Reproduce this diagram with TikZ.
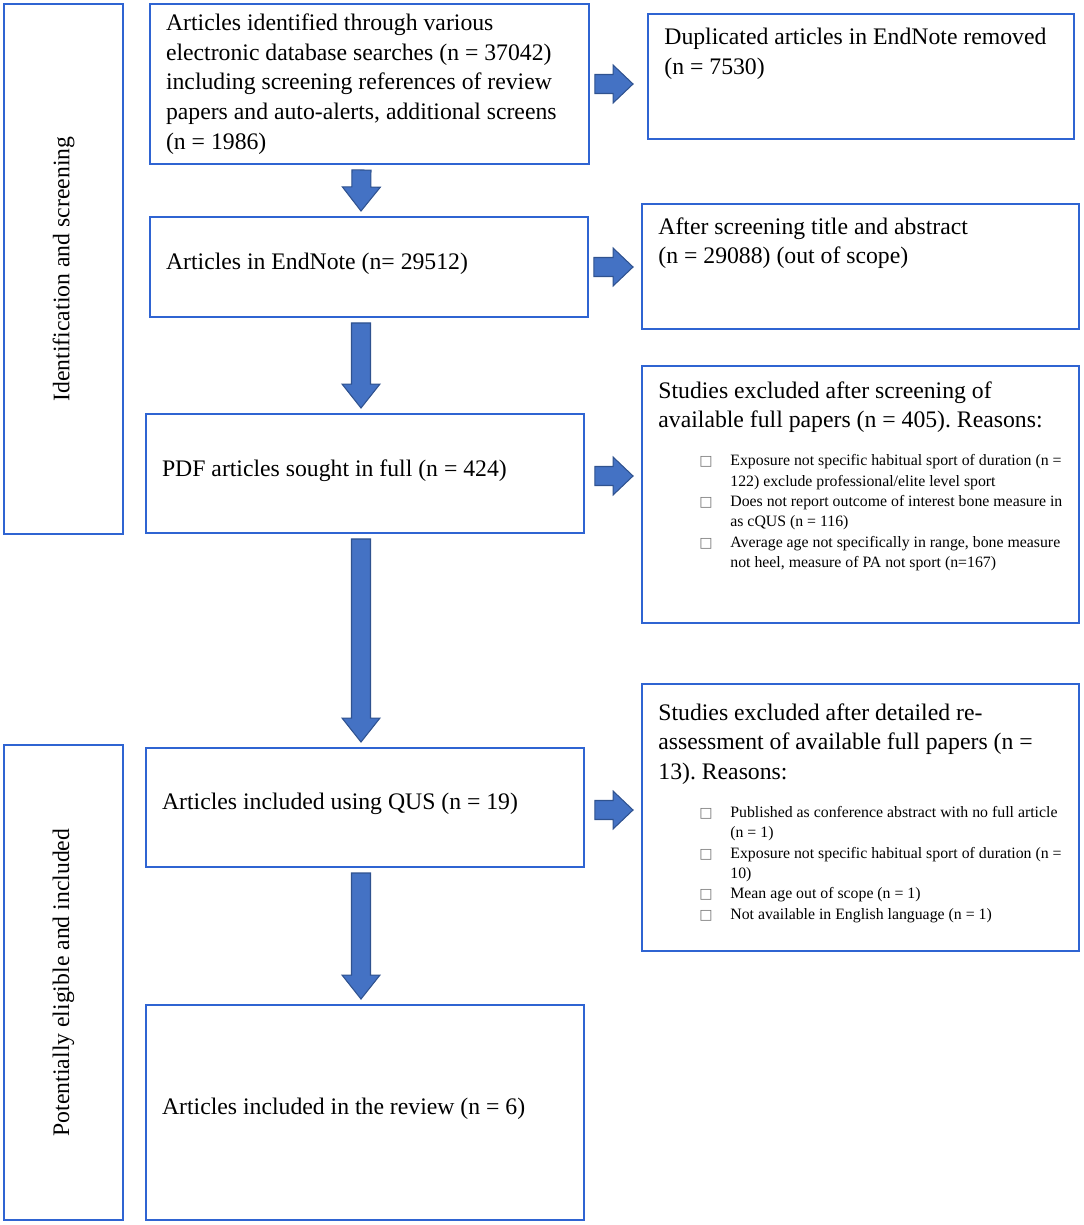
\documentclass[tikz,border=0pt]{standalone}
\usepackage{fontspec}
\setmainfont{Liberation Serif}
\newfontfamily\symfont{DejaVu Sans}
\usetikzlibrary{calc}

\definecolor{boxblue}{RGB}{47,100,210}
\definecolor{arrowfill}{RGB}{68,114,196}
\definecolor{arrowedge}{RGB}{47,82,143}

\newcommand\mainsize{\fontsize{13.5pt}{16.9pt}\selectfont}
\newcommand\smallsize{\fontsize{9pt}{11.6pt}\selectfont}
\newcommand\bulletbox{\makebox[0.62cm][l]{\color{black!55}\symfont\fontsize{8pt}{8pt}\selectfont □}}
\setlength{\parindent}{0pt}
\frenchspacing

\tikzset{
  flowbox/.style={draw=boxblue, line width=1.1pt, rectangle, outer sep=0.12cm,
    inner xsep=0.32cm, inner ysep=0pt, align=flush left, font=\mainsize},
  onelinebox/.style={flowbox, text depth=0.23cm},
  sidebox/.style={draw=boxblue, line width=1.1pt, rectangle, inner sep=0pt,
    font=\mainsize},
  boxtext/.style={anchor=north west, inner sep=0pt, text width=8.4cm,
    align=flush left, font=\mainsize},
  fatarrow/.style={draw=arrowedge, fill=arrowfill, line width=0.6pt, line join=miter,
    to path={($(\tikztostart)!0.19cm!90:(\tikztotarget)$)
      -- ($(\tikztotarget)!#1!(\tikztostart)!0.19cm!-90:(\tikztostart)$)
      -- ($(\tikztotarget)!#1!(\tikztostart)!0.38cm!-90:(\tikztostart)$)
      -- (\tikztotarget)
      -- ($(\tikztotarget)!#1!(\tikztostart)!0.38cm!90:(\tikztostart)$)
      -- ($(\tikztotarget)!#1!(\tikztostart)!0.19cm!90:(\tikztostart)$)
      -- ($(\tikztostart)!0.19cm!-90:(\tikztotarget)$) -- cycle}},
  fatarrow/.default=0.48cm
}

\begin{document}
\begin{tikzpicture}[x=0.02cm, y=-0.02cm]
\useasboundingbox (0,0) rectangle (1084,1225);

% stage boxes on the left
\node[sidebox, rotate=90, minimum width=10.6cm, minimum height=2.38cm] (S1) at (63.5,269) {Identification and screening};
\node[sidebox, rotate=90, minimum width=9.5cm, minimum height=2.38cm] (S2) at (63.5,982.5) {Potentially eligible and included};

% main column
\node[flowbox, minimum width=8.78cm, minimum height=3.2cm, text width=8.14cm] (A) at (369.5,84)
  {Articles identified through various\newline electronic database searches (n = 37042)\newline including screening references of review\newline papers and auto-alerts, additional screens\newline (n = 1986)};
\node[onelinebox, minimum width=8.76cm, minimum height=2cm, text width=8.12cm] (C) at (369,267) {Articles in EndNote (n= 29512)};
\node[onelinebox, minimum width=8.76cm, minimum height=2.38cm, text width=8.12cm] (E) at (365,473.5) {PDF articles sought in full (n = 424)};
\node[onelinebox, minimum width=8.76cm, minimum height=2.38cm, text width=8.12cm] (G) at (365,807.5) {Articles included using QUS (n = 19)};
\node[onelinebox, minimum width=8.76cm, minimum height=4.3cm, text width=8.12cm] (I) at (365,1112.5) {Articles included in the review (n = 6)};

% exclusion column
\node[flowbox, minimum width=8.52cm, minimum height=2.5cm] (B) at (861,76.5) {};
\node[boxtext] (Btext) at ([shift={(22,20)}]B.north west)
  {Duplicated articles in EndNote removed\newline (n = 7530)};

\node[flowbox, minimum width=8.74cm, minimum height=2.5cm] (D) at (860.5,266.5) {};
\node[boxtext] (Dtext) at ([shift={(22,19)}]D.north west)
  {After screening title and abstract\newline (n = 29088) (out of scope)};

\node[flowbox, minimum width=8.74cm, minimum height=5.14cm] (F) at (860.5,494.5) {};
\node[boxtext] (Ftext) at ([shift={(22,21)}]F.north west)
  {Studies excluded after screening of\newline available full papers (n = 405). Reasons:\par
   \vspace{10pt}
   {\smallsize\leftskip=1.44cm
   \noindent\llap{\bulletbox}Exposure not specific habitual sport of duration (n =\newline 122) exclude professional/elite level sport\par
   \noindent\llap{\bulletbox}Does not report outcome of interest bone measure in\newline as cQUS (n = 116)\par
   \noindent\llap{\bulletbox}Average age not specifically in range, bone measure\newline not heel, measure of PA not sport (n=167)\par}};

\node[flowbox, minimum width=8.74cm, minimum height=5.34cm] (H) at (860.5,817.5) {};
\node[boxtext] (Htext) at ([shift={(22,25)}]H.north west)
  {Studies excluded after detailed re-\newline assessment of available full papers (n =\newline 13). Reasons:\par
   \vspace{10pt}
   {\smallsize\leftskip=1.44cm
   \noindent\llap{\bulletbox}Published as conference abstract with no full article\newline (n = 1)\par
   \noindent\llap{\bulletbox}Exposure not specific habitual sport of duration (n =\newline 10)\par
   \noindent\llap{\bulletbox}Mean age out of scope (n = 1)\par
   \noindent\llap{\bulletbox}Not available in English language (n = 1)\par}};

% block arrows
\draw[fatarrow] ($(A.south)+(-8,0)$) to ($(C.north)+(-8,0)$);
\draw[fatarrow] ($(C.south)+(-8,0)$) to ($(E.north)+(-4,0)$);
\draw[fatarrow] ($(E.south)+(-4,0)$) to ($(G.north)+(-4,0)$);
\draw[fatarrow] ($(G.south)+(-4,0)$) to ($(I.north)+(-4,0)$);

\draw[fatarrow=0.4cm] (A.east) to ($(B.west |- A.east)+(-9,0)$);
\draw[fatarrow=0.4cm] (C.east) to ($(D.west |- C.east)+(-3,0)$);
\draw[fatarrow=0.4cm] ($(E.east)+(5,2.5)$) to ($(F.west |- E.east)+(-3,2.5)$);
\draw[fatarrow=0.4cm] ($(G.east)+(5,2.5)$) to ($(H.west |- G.east)+(-3,2.5)$);

\end{tikzpicture}
\end{document}
